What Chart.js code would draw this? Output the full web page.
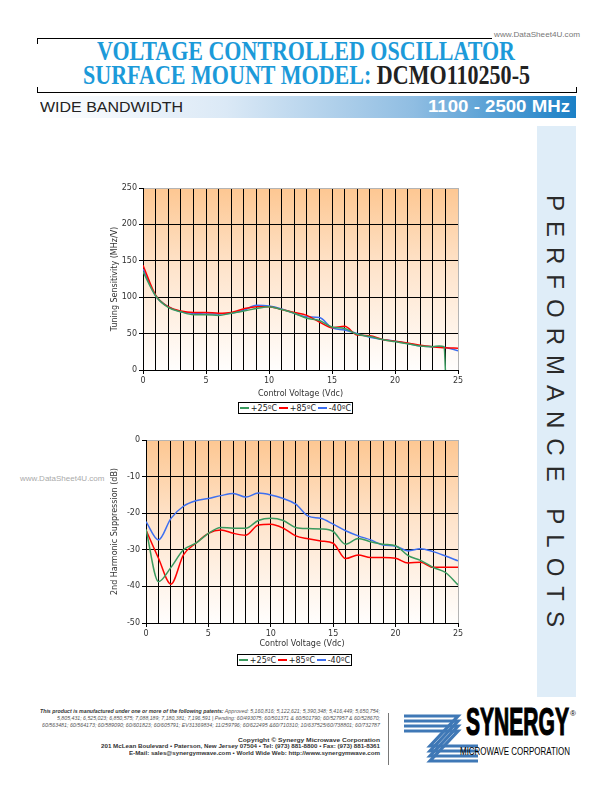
<!DOCTYPE html>
<html>
<head>
<meta charset="utf-8">
<script src="https://cdn.jsdelivr.net/npm/chart.js"></script>
<style>
  body { margin: 0; width: 612px; height: 792px; position: relative; background: #fff; overflow: hidden; font-family: "Liberation Sans", Arial, sans-serif; }
  .abs { position: absolute; white-space: nowrap; transform-origin: left top; }
  .title { font-family: "Liberation Serif", serif; font-weight: bold; font-size: 27px; line-height: 27px; color: #1c9ad9; }
  .legend { position: absolute; border: 1px solid #000; height: 10px; background: #fff; font: 8px "DejaVu Sans", sans-serif; color: #222;
            display: flex; justify-content: space-around; align-items: center; }
  .legend i { display: inline-block; width: 9px; height: 1.5px; margin-right: 2px; vertical-align: middle; }
  .foot { font-size: 5.5px; line-height: 6px; color: #555; font-style: italic; }
  .foot b { color: #333; }
  .copy { font-size: 6px; line-height: 6px; font-weight: bold; color: #333; }
  canvas { position: absolute; }
</style>
</head>
<body>
<!-- header frame -->
<div class="abs" style="left:37px;top:38px;width:455px;border-top:1px solid #000"></div>
<div class="abs" style="left:37px;top:38px;height:6px;border-left:1px solid #000"></div>
<div class="abs" style="left:494px;top:30px;font-size:8px;color:#777" data-w="86">www.DataSheet4U.com</div>
<div class="abs" style="left:37px;top:92px;width:540px;border-top:1px solid #000"></div>
<div class="abs" style="left:37px;top:87px;height:5px;border-left:1px solid #000"></div>
<div class="abs" style="left:576px;top:87px;height:5px;border-left:1px solid #000"></div>

<div class="abs title" style="left:97px;top:38px" data-w="418">VOLTAGE CONTROLLED OSCILLATOR</div>
<div class="abs title" style="left:83px;top:62px" data-w="447">SURFACE MOUNT MODEL: <span style="color:#222">DCMO110250-5</span></div>

<div class="abs" style="left:37px;top:96px;width:539px;height:22px;background:linear-gradient(to right,#ffffff 0%,#dbe9f6 35%,#8fbde2 70%,#1b80c6 100%)"></div>
<div class="abs" style="left:40px;top:99px;font-size:15px;line-height:16px;color:#222" data-w="143">WIDE BANDWIDTH</div>
<div class="abs" style="left:428px;top:98px;font-size:16px;line-height:17px;font-weight:bold;color:#fff" data-w="142">1100 - 2500 MHz</div>

<!-- side banner -->
<div class="abs" style="left:537px;top:126px;width:39px;height:571px;background:#dfedf8"></div>
<div class="abs" style="left:541px;top:195px;font-size:24px;color:#2a2a2a;writing-mode:vertical-rl;letter-spacing:10px">PERFORMANCE PLOTS</div>

<div class="abs" style="left:20px;top:474px;font-size:8px;color:#aaa">www.DataSheet4U.com</div>

<canvas id="tuneChart" width="375" height="222" style="left:95px;top:180px;width:375px;height:222px"></canvas>
<div class="legend" id="tuneLegend" style="left:238px;top:402px;width:113px"></div>

<canvas id="harmChart" width="375" height="226" style="left:95px;top:430px;width:375px;height:226px"></canvas>
<div class="legend" id="harmLegend" style="left:237px;top:654px;width:113px"></div>

<!-- footer -->
<div class="abs foot" style="left:40px;top:708px" data-w="340"><b>This product is manufactured under one or more of the following patents:</b> Approved: 5,160,816; 5,122,621; 5,390,348; 5,416,449; 5,650,754;</div>
<div class="abs foot" style="left:57px;top:715px" data-w="323">5,805,431; 6,525,023; 6,850,575; 7,088,189; 7,180,381; 7,196,591 | Pending: 60/493075; 60/501371 &amp; 60/501790; 60/527957 &amp; 60/528670;</div>
<div class="abs foot" style="left:42px;top:722px" data-w="338">60/563481; 60/564173; 60/589090; 60/601823; 60/605791; EV31369834; 11/259796; 60/622495 &amp;60/710310; 10/637525/60/738801; 60/732787</div>
<div class="abs copy" style="left:238px;top:737px" data-w="142">Copyright © Synergy Microwave Corporation</div>
<div class="abs copy" style="left:101px;top:743px" data-w="279">201 McLean Boulevard • Paterson, New Jersey 07504 • Tel: (973) 881-8800 • Fax: (973) 881-8361</div>
<div class="abs copy" style="left:129px;top:750px" data-w="251">E-Mail: sales@synergymwave.com • World Wide Web: http://www.synergymwave.com</div>
<div class="abs" style="left:388px;top:713px;height:52px;border-left:1.5px solid #777"></div>

<svg class="abs" style="left:396px;top:704px" width="182" height="64" viewBox="0 0 182 64">
  <g fill="none" stroke="#3f78b6" stroke-width="3.2">
    <polyline points="8,12 62,12 34,42 82,42"/>
    <polyline points="8,17 62,17 34,47 82,47"/>
    <polyline points="8,22 62,22 34,52 82,52"/>
    <polyline points="8,27 62,27 34,57 82,57"/>
  </g>
  <text x="70" y="31" font-family="Liberation Sans" font-weight="900" font-size="38" stroke="#000" stroke-width="1.2"
        textLength="103" lengthAdjust="spacingAndGlyphs">SYNERGY</text>
  <text x="174" y="12" font-family="Liberation Sans" font-size="8">®</text>
  <text x="64" y="51" font-family="Liberation Sans" font-size="10" textLength="110" lengthAdjust="spacingAndGlyphs">MICROWAVE CORPORATION</text>
</svg>

<script>
// control voltage points (Vdc)
const volts = [0, 1, 2, 3, 4, 5, 6, 7, 8, 9, 10, 11, 12, 13, 14, 15, 16, 17, 18, 19, 20, 21, 22, 23, 24, 25];
const voltLabels = [0, 5, 10, 15, 20, 25];

// tuning sensitivity (MHz/V)
const tuneGreenVolts = [0, 1, 2, 3, 4, 5, 6, 7, 8, 9, 10, 11, 12, 13, 14, 15, 16, 17, 18, 19, 20, 21, 22, 23, 23.5, 23.9, 24];
const tuneGreen = [135, 102, 86, 80, 76, 76, 75, 78, 81, 84.5, 87, 83, 78, 71, 68, 59, 57, 49, 46, 42, 39, 36, 33, 32, 33, 32, 0];
const tuneRed = [144, 103, 87, 81, 79, 79, 78, 79, 84, 87, 87, 83, 79, 75, 66, 58, 60, 48, 47, 42, 39.5, 37, 34, 32, 30.5, 30];
const tuneBlue = [139, 102, 87, 80, 78, 77, 77, 78, 82, 89, 88, 84, 78, 73, 72, 58, 55, 50, 45, 42, 39.5, 36.5, 33, 32, 31, 26.5];
const tuneTicks = [0, 50, 100, 150, 200, 250];

// 2nd harmonic suppression (dB)
const harmGreen = [-24.4, -38.7, -34.8, -30, -28.2, -25.5, -23.9, -24.1, -24.1, -22, -21.4, -22, -23.9, -24.2, -24.3, -25, -28.5, -26.9, -27.8, -28.5, -28.9, -31.6, -32.9, -34.8, -36.2, -39.6];
const harmRed = [-24.6, -32.3, -39.4, -31.4, -28.2, -25.5, -24.6, -25.5, -26, -23.2, -23, -24.1, -26.2, -27, -27.6, -28.2, -32.4, -31.4, -32.1, -32.1, -32.3, -33.6, -33.4, -34.8, -34.8, -34.8];
const harmBlue = [-22.3, -27.3, -21.4, -18.1, -16.6, -16, -15.2, -14.6, -15.6, -14.5, -15, -16, -17.5, -20.8, -21.4, -23, -24.8, -26.2, -27.3, -28.7, -29, -30.3, -29.7, -30.5, -31.7, -33];
const harmTicks = [-50, -40, -30, -20, -10, 0];

const seriesNames = ["+25ºC", "+85ºC", "-40ºC"];
const seriesColors = ["#3a9a5e", "#ff0000", "#3d6ff0"];

// stretch text blocks to the widths measured on the sheet
document.querySelectorAll("[data-w]").forEach(function (el) {
  const w = el.getBoundingClientRect().width;
  el.style.transform = "scaleX(" + (+el.dataset.w / w) + ")";
});

function pairs(xs, ys) {
  return xs.map((x, i) => ({ x: x, y: ys[i] }));
}

const plotBg = {
  id: "plotBg",
  beforeDraw(chart) {
    const { ctx, chartArea: a } = chart;
    const g = ctx.createLinearGradient(0, a.top, 0, a.bottom);
    g.addColorStop(0, "#fdc792");
    g.addColorStop(0.45, "#fee4cc");
    g.addColorStop(1, "#fffefd");
    ctx.save();
    ctx.fillStyle = g;
    ctx.fillRect(a.left, a.top, a.right - a.left, a.bottom - a.top);
    ctx.restore();
  },
};

function makeChart(id, series, yTicks, yTitle, geo) {
  const ctx = document.getElementById(id).getContext("2d");
  const yMax = Math.max(...yTicks);
  return new Chart(ctx, {
    type: "line",
    data: {
      datasets: series.map((s, i) => ({
        label: seriesNames[i],
        data: s,
        borderColor: seriesColors[i],
        borderWidth: 1.5,
        pointRadius: 0,
        fill: false,
        cubicInterpolationMode: "monotone",
      })),
    },
    options: {
      responsive: false,
      animation: false,
      devicePixelRatio: 1,
      layout: { padding: { left: 0, top: geo.top, right: 12, bottom: geo.bottom } },
      plugins: { legend: { display: false }, tooltip: { enabled: false } },
      scales: {
        x: {
          type: "linear",
          min: 0,
          max: 25,
          afterFit: (s) => { s.height = 30; },
          ticks: {
            stepSize: 1,
            autoSkip: false,
            maxRotation: 0,
            padding: 2,
            color: "#333",
            font: { family: "DejaVu Sans", size: 8 },
            callback: (v) => (voltLabels.includes(v) ? String(v) : ""),
          },
          grid: {
            color: (c) => (c.tick && c.tick.value === 25 ? "#b4b4b4" : "#000"),
            tickColor: (c) => (c.tick && voltLabels.includes(c.tick.value) ? "#000" : "rgba(0,0,0,0)"),
            tickLength: 4,
            lineWidth: 1,
          },
          border: { color: "#000", width: 1 },
          title: {
            display: true,
            text: "Control Voltage (Vdc)",
            color: "#333",
            font: { family: "DejaVu Sans", size: 8 },
            padding: { top: 0, bottom: geo.xTitlePad },
          },
        },
        y: {
          min: Math.min(...yTicks),
          max: yMax,
          afterFit: (s) => { s.width = geo.yWidth; },
          afterBuildTicks: (s) => { s.ticks = yTicks.map((v) => ({ value: v })); },
          ticks: { padding: 2, color: "#333", font: { family: "DejaVu Sans", size: 8 } },
          grid: {
            color: (c) => (c.tick && c.tick.value === yMax ? "#b4b4b4" : "#000"),
            tickColor: "#000",
            tickLength: 4,
            lineWidth: 1,
          },
          border: { color: "#000", width: 1 },
          title: {
            display: true,
            text: yTitle,
            color: "#333",
            font: { family: "DejaVu Sans", size: 8 },
            padding: { top: 15, bottom: 0 },
          },
        },
      },
    },
    plugins: [plotBg],
  });
}

makeChart("tuneChart",
  [pairs(tuneGreenVolts, tuneGreen), pairs(volts, tuneRed), pairs(volts, tuneBlue)],
  tuneTicks, "Tuning Sensitivity (MHz/V)",
  { top: 8, bottom: 2, yWidth: 48, xTitlePad: 1 });

makeChart("harmChart",
  [pairs(volts, harmGreen), pairs(volts, harmRed), pairs(volts, harmBlue)],
  harmTicks, "2nd Harmonic Suppression (dB)",
  { top: 10, bottom: 3, yWidth: 51, xTitlePad: 4 });

["tuneLegend", "harmLegend"].forEach(function (id) {
  document.getElementById(id).innerHTML = seriesNames
    .map((n, i) => '<span><i style="background:' + seriesColors[i] + '"></i>' + n + "</span>")
    .join("");
});
</script>
</body>
</html>
